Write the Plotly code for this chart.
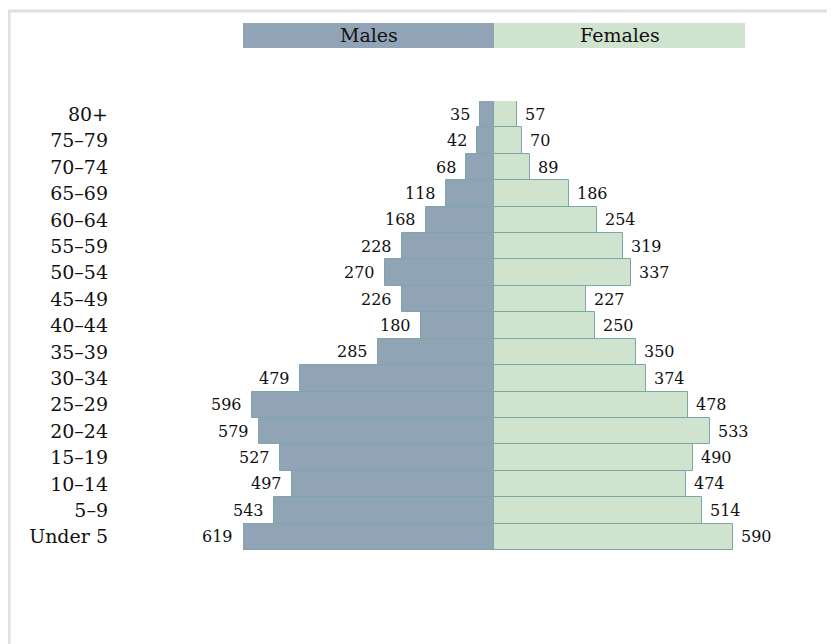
import plotly.graph_objects as go

age_groups = ["80+", "75–79", "70–74", "65–69", "60–64", "55–59", "50–54", "45–49",
              "40–44", "35–39", "30–34", "25–29", "20–24", "15–19", "10–14", "5–9", "Under 5"]
males = [35, 42, 68, 118, 168, 228, 270, 226, 180, 285, 479, 596, 579, 527, 497, 543, 619]
females = [57, 70, 89, 186, 254, 319, 337, 227, 250, 350, 374, 478, 533, 490, 474, 514, 590]

MALE_COLOR = "#91a4b5"
FEMALE_COLOR = "#cfe3cf"
EDGE = "#7ba7a6"
FONT = "DejaVu Serif"

# the page body has an 8px margin, so the figure is a little smaller than the window
W, H = 827, 636
L, R, T, B = 235, 90, 93, 94
max_val = max(males + females)

fig = go.Figure()

fig.add_trace(go.Bar(
    y=age_groups, x=[-v for v in males], orientation="h", name="Males",
    marker=dict(color=MALE_COLOR, line=dict(color=EDGE, width=1)),
    hoverinfo="skip",
))
fig.add_trace(go.Bar(
    y=age_groups, x=females, orientation="h", name="Females",
    marker=dict(color=FEMALE_COLOR, line=dict(color=EDGE, width=1)),
    hoverinfo="skip",
))

# value labels beside each bar end
for g, m, f in zip(age_groups, males, females):
    fig.add_annotation(x=-m, y=g, text=str(m), showarrow=False, xanchor="right",
                       xshift=-8, font=dict(family=FONT, size=16, color="#111"))
    fig.add_annotation(x=f, y=g, text=str(f), showarrow=False, xanchor="left",
                       xshift=6, font=dict(family=FONT, size=16, color="#111"))

plot_h = H - T - B
plot_w = W - L - R
def py(px):
    return (H - B - px) / plot_h

# header boxes
fig.add_shape(type="rect", xref="x", yref="paper", x0=-max_val, x1=0, y0=py(40), y1=py(15),
              fillcolor=MALE_COLOR, line=dict(width=0), layer="below")
fig.add_shape(type="rect", xref="x", yref="paper", x0=0, x1=max_val, y0=py(40), y1=py(15),
              fillcolor=FEMALE_COLOR, line=dict(width=0), layer="below")
fig.add_annotation(x=-max_val / 2, y=py(27.5), xref="x", yref="paper", text="Males",
                   showarrow=False, yanchor="middle", font=dict(family=FONT, size=19, color="#111"))
fig.add_annotation(x=max_val / 2, y=py(27.5), xref="x", yref="paper", text="Females",
                   showarrow=False, yanchor="middle", font=dict(family=FONT, size=19, color="#111"))

# outer frame of the card
fig.add_shape(type="rect", xref="paper", yref="paper",
              x0=(1 - L) / plot_w, x1=(W + 20 - L) / plot_w, y0=py(H + 20), y1=py(3),
              line=dict(color="#e0e0e0", width=3), fillcolor="rgba(0,0,0,0)")

fig.update_layout(
    width=W, height=H,
    margin=dict(l=L, r=R, t=T, b=B),
    barmode="relative", bargap=0,
    showlegend=False,
    plot_bgcolor="white", paper_bgcolor="white",
    font=dict(family=FONT, color="#111"),
    xaxis=dict(range=[-max_val, max_val], visible=False, fixedrange=True),
    yaxis=dict(autorange="reversed", showgrid=False, zeroline=False, ticks="",
               showline=False, ticklabelstandoff=134,
               tickfont=dict(family=FONT, size=19, color="#111"), fixedrange=True),
)

fig.write_html("out.html")
